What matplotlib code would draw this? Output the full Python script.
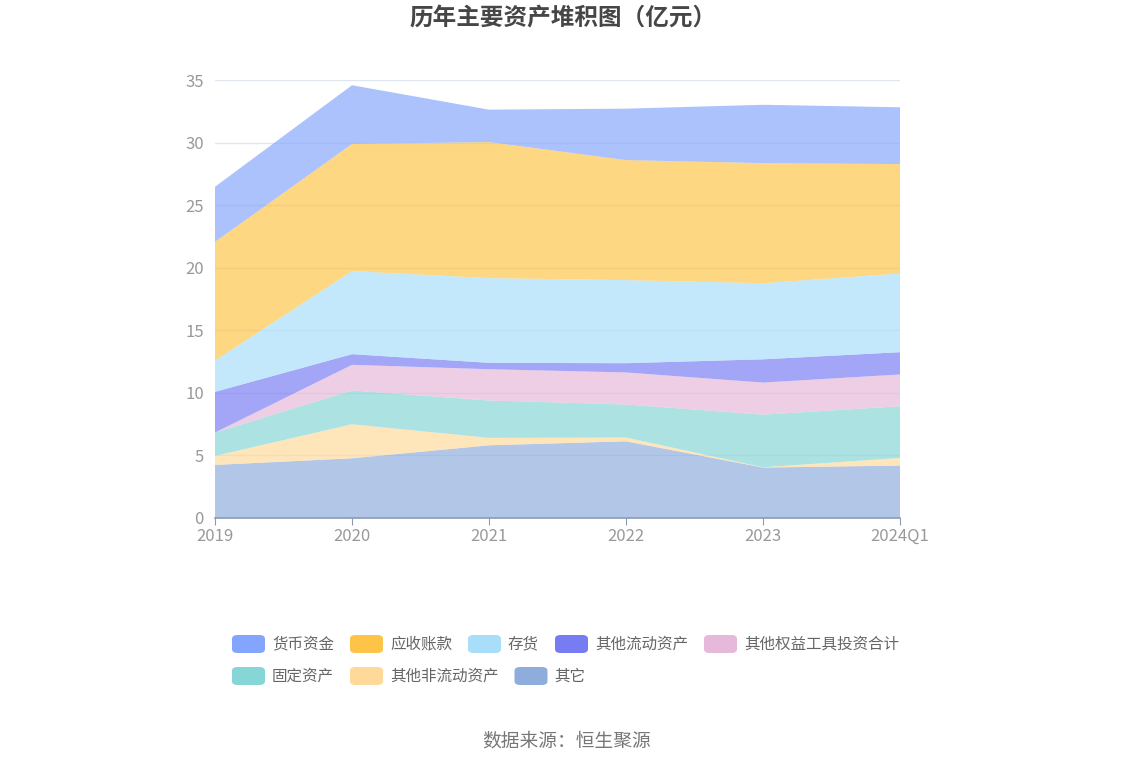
import matplotlib.pyplot as plt
from matplotlib.patches import FancyBboxPatch

plt.rcParams['font.family'] = ['Noto Sans CJK SC', 'DejaVu Sans']

# data (亿元)
years = ['2019', '2020', '2021', '2022', '2023', '2024Q1']
qita = [4.24, 4.77, 5.81, 6.13, 4.03, 4.19]          # 其它
fei_liudong = [0.72, 2.72, 0.59, 0.30, 0.02, 0.61]   # 其他非流动资产
guding = [1.87, 2.70, 2.99, 2.64, 4.21, 4.13]        # 固定资产
quanyi = [0.0, 2.05, 2.50, 2.56, 2.56, 2.54]         # 其他权益工具投资合计
qita_liudong = [3.25, 0.85, 0.51, 0.74, 1.86, 1.78]  # 其他流动资产
cunhuo = [2.50, 6.64, 6.77, 6.64, 6.08, 6.29]        # 存货
yingshou = [9.49, 10.16, 10.87, 9.59, 9.60, 8.74]    # 应收账款
huobi = [4.40, 4.69, 2.59, 4.11, 4.66, 4.54]         # 货币资金

# stacking order bottom -> top
series = [
    ('其它', qita, '#8eaddd'),
    ('其他非流动资产', fei_liudong, '#ffd99a'),
    ('固定资产', guding, '#86d5d7'),
    ('其他权益工具投资合计', quanyi, '#e6b8d9'),
    ('其他流动资产', qita_liudong, '#787cf3'),
    ('存货', cunhuo, '#a8defa'),
    ('应收账款', yingshou, '#fdc447'),
    ('货币资金', huobi, '#84a5fd'),
]
legend_order = ['货币资金', '应收账款', '存货', '其他流动资产', '其他权益工具投资合计',
                '固定资产', '其他非流动资产', '其它']

W, H = 1134, 766
fig = plt.figure(figsize=(W / 100, H / 100), dpi=100)
ax = fig.add_axes([215 / W, 1 - 518 / H, (900 - 215) / W, (518 - 80) / H])

x = list(range(len(years)))
ax.stackplot(x, *[s[1] for s in series], colors=[s[2] for s in series],
             alpha=0.68, linewidth=0)

ax.set_xlim(0, len(years) - 1)
ax.set_ylim(0, 35)
ax.set_yticks(range(0, 36, 5))
ax.set_xticks(x)
ax.set_xticklabels(years)
ax.grid(axis='y', color='#e0e6f1', linewidth=1)
ax.set_axisbelow(True)
for sp in ['top', 'right', 'left']:
    ax.spines[sp].set_visible(False)
ax.spines['bottom'].set_color('#8a9bb0')
ax.spines['bottom'].set_linewidth(1.2)
ax.tick_params(axis='y', length=0, pad=8, labelsize=12, labelcolor='#999999')
ax.tick_params(axis='x', length=5, color='#8a9bb0', pad=2, labelsize=12, labelcolor='#999999')

fig.text(563 / W, 1 - 18 / H, '历年主要资产堆积图（亿元）', ha='center', va='center',
         fontsize=17, fontweight='bold', color='#464646')

# legend drawn manually (flow layout like echarts)
colors = {s[0]: s[2] for s in series}
lx, ly = 232, 644
for name in legend_order:
    w_item = 33 + 8 + len(name) * 15.5 + 15
    if lx + w_item > 930:
        lx, ly = 232, ly + 32
    fig.patches.append(FancyBboxPatch((lx / W, 1 - (ly + 9) / H), 33 / W, 18 / H,
                                      boxstyle='round,pad=0,rounding_size=0.005',
                                      transform=fig.transFigure, facecolor=colors[name],
                                      edgecolor='none'))
    fig.text((lx + 40) / W, 1 - ly / H, name, ha='left', va='center',
             fontsize=11.2, color='#666666')
    lx += w_item

fig.text(567 / W, 1 - 741 / H, '数据来源：恒生聚源', ha='center', va='center',
         fontsize=13.5, color='#777777')

fig.savefig('out.png', dpi=100)
